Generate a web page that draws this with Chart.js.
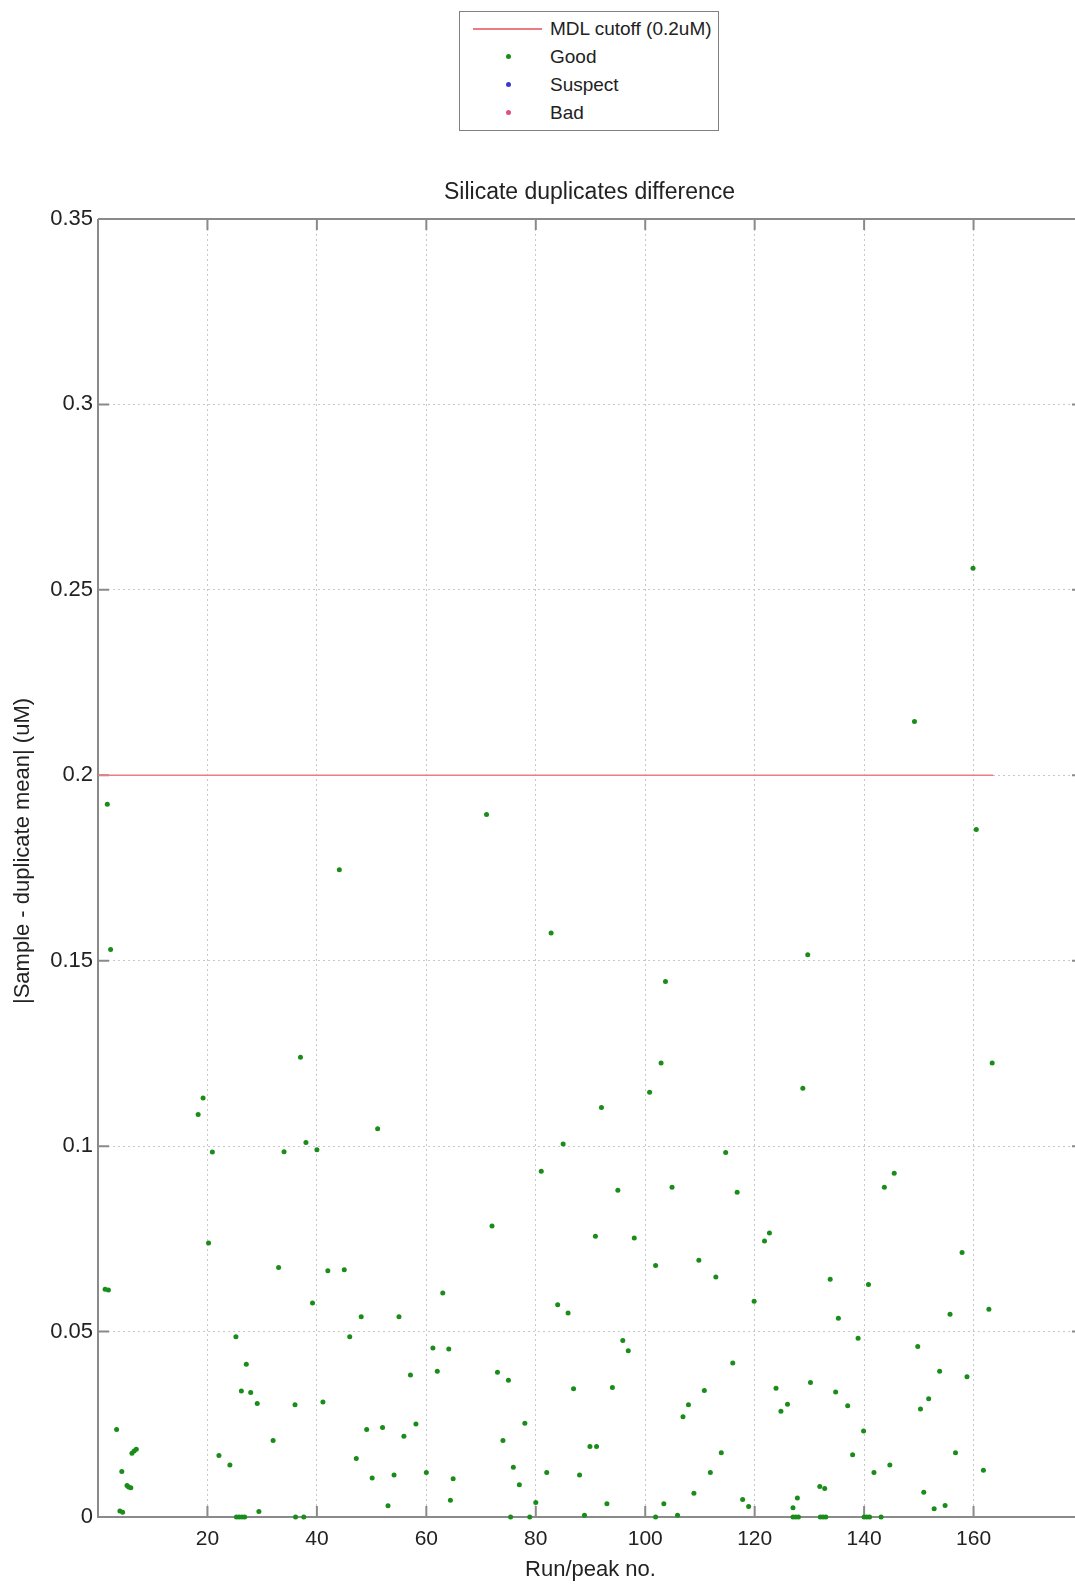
<!DOCTYPE html>
<html><head><meta charset="utf-8">
<script src="https://cdn.jsdelivr.net/npm/chart.js@4/dist/chart.umd.min.js"></script>
<style>
html,body{margin:0;padding:0;background:#fff;overflow:hidden;width:1075px;height:1584px;}
#wrap{position:relative;width:1075px;height:1584px;overflow:hidden;}
#c{position:absolute;left:0;top:0;}
#legend{position:absolute;left:459px;top:11px;width:258px;height:118px;border:1px solid #808080;background:#fff;font-family:"Liberation Sans",Arial,sans-serif;font-size:19px;color:#222;}
.row{position:absolute;left:0;width:100%;height:28px;}
.sym{position:absolute;}
.txt{position:absolute;left:90px;top:0;line-height:28px;white-space:nowrap;}
</style>
</head><body>
<div id="wrap"><canvas id="c"></canvas><div id="legend"></div></div>
<script>
// ---- data ----
const runNo = [1.3,1.7,1.9,2.3,3.4,4.0,4.35,4.5,5.3,5.6,6.0,6.2,6.6,7.0,
18.3,19.2,20.2,20.9,22.1,24.1,25.2,25.3,25.8,26.2,26.3,26.8,27.1,27.9,29.1,29.4,32,33,34,36,36.1,37,37.6,38,39.2,40,41.1,42,44.1,45,46,47.2,48.1,49.1,50.1,51.1,52,53,54.1,55,55.9,57.1,58.1,
60,61.2,62,63,64.1,64.4,64.9,71,72,73,74,75,75.4,75.9,77,78,78.9,80,81,82,82.8,84,85,85.9,86.9,88,88.9,89.9,90.9,91.1,92,93,94,95,95.9,96.9,98,100.8,101.9,101.9,102.9,103.4,103.7,104.9,105.9,106.9,107.9,108.9,109.8,110.8,111.9,112.9,113.9,114.7,116,116.8,117.8,118.9,
119.9,121.8,122.7,123.9,124.8,126,127,127,127.5,127.8,128,128.8,129.7,130.2,131.9,132,132.5,132.8,133,133.8,134.8,135.3,137,137.9,138.9,139.9,140,140.5,140.8,141,141.8,143.1,143.7,144.7,145.5,149.2,149.8,150.3,150.9,151.8,152.8,153.8,154.8,155.7,156.7,157.9,158.8,159.9,160.5,161.8,162.8,163.4];
const absDiff = [0.0614,0.1922,0.0612,0.153,0.0236,0.0016,0.0123,0.0013,0.0085,0.0081,0.0079,0.0172,0.0178,0.0183,
0.1085,0.113,0.0739,0.0984,0.0166,0.014,0.0486,0,0,0.034,0,0,0.0412,0.0336,0.0306,0.0015,0.0206,0.0673,0.0985,0.0303,0,0.124,0,0.101,0.0577,0.099,0.031,0.0664,0.1745,0.0667,0.0486,0.0158,0.054,0.0236,0.0105,0.1047,0.0241,0.003,0.0113,0.054,0.0218,0.0383,0.0251,
0.012,0.0456,0.0393,0.0604,0.0453,0.0045,0.0103,0.1894,0.0785,0.039,0.0206,0.0369,0,0.0134,0.0087,0.0253,0,0.0039,0.0932,0.012,0.1575,0.0572,0.1006,0.055,0.0346,0.0113,0.0005,0.019,0.0757,0.019,0.1104,0.0036,0.0349,0.0881,0.0476,0.0448,0.0752,0.1145,0.0678,0,0.1224,0.0036,0.1444,0.0889,0.0005,0.027,0.0303,0.0064,0.0692,0.0341,0.012,0.0647,0.0173,0.0983,0.0415,0.0876,0.0047,0.0028,
0.0582,0.0744,0.0766,0.0347,0.0285,0.0304,0.0025,0,0,0.0051,0,0.1156,0.1516,0.0363,0.0082,0,0,0.0077,0,0.0641,0.0337,0.0536,0.03,0.0168,0.0482,0.0232,0,0,0.0627,0,0.012,0,0.0889,0.014,0.0927,0.2145,0.046,0.0291,0.0067,0.0319,0.0022,0.0393,0.0031,0.0547,0.0173,0.0713,0.0378,0.2558,0.1854,0.0126,0.056,0.1224];
const suspectRun = [];
const suspectDiff = [];
const badRun = [];
const badDiff = [];
const mdlCutoff = 0.2;
const mdlRunRange = [0, 163.6];
const xTicks = [20,40,60,80,100,120,140,160];
const yTicks = [0,0.05,0.1,0.15,0.2,0.25,0.3,0.35];
const yTickLabels = ['0','0.05','0.1','0.15','0.2','0.25','0.3','0.35'];
const chartTitle = 'Silicate duplicates difference';
const xTitle = 'Run/peak no.';
const yTitle = '|Sample - duplicate mean| (uM)';
const legendLabels = ['MDL cutoff (0.2uM)','Good','Suspect','Bad'];

// ---- styles ----
const FONT = '"Liberation Sans", Arial, sans-serif';
const TXT = '#222';
const FRAME = '#8a8a8a';
const colors = {mdl:'#ee7b84', good:'#1a8c1a', suspect:'#3a3ad0', bad:'#e0507a'};

const toPts = (xs, ys) => xs.map((x,i)=>({x:x, y:ys[i]}));

const frame = {
  id:'frame',
  beforeDatasetsDraw(chart){
    const {ctx, chartArea:a, scales:{x,y}} = chart;
    ctx.save();
    ctx.strokeStyle = FRAME; ctx.lineWidth = 2;
    ctx.beginPath();
    ctx.moveTo(a.left, a.top); ctx.lineTo(a.right, a.top);
    ctx.moveTo(a.left, a.top); ctx.lineTo(a.left, a.bottom); ctx.lineTo(a.right, a.bottom);
    xTicks.forEach(v=>{const px=x.getPixelForValue(v); ctx.moveTo(px,a.bottom); ctx.lineTo(px,a.bottom-11); ctx.moveTo(px,a.top); ctx.lineTo(px,a.top+11);});
    yTicks.forEach(v=>{const py=y.getPixelForValue(v); ctx.moveTo(a.left,py); ctx.lineTo(a.left+11,py); ctx.moveTo(a.right,py); ctx.lineTo(a.right-11,py);});
    ctx.stroke();
    ctx.restore();
  },
  afterDraw(chart){
    const {ctx, chartArea:a} = chart;
    ctx.save();
    ctx.fillStyle = TXT;
    ctx.textAlign = 'center';
    ctx.textBaseline = 'middle';
    ctx.font = '23px ' + FONT;
    ctx.fillText(chartTitle, (a.left + a.right) / 2 - 1, a.top - 26);
    ctx.font = '22px ' + FONT;
    ctx.translate(23, 851);
    ctx.rotate(-Math.PI/2);
    ctx.fillText(yTitle, 0, 0);
    ctx.restore();
  }
};

const canvas = document.getElementById('c');
canvas.width = 1100; canvas.height = 1584;
canvas.style.width = '1100px'; canvas.style.height = '1584px';

const datasets = [
  {label: legendLabels[0], type:'line', data: mdlRunRange.map(x=>({x:x, y:mdlCutoff})), borderColor: colors.mdl, borderWidth: 1.6, pointRadius: 0, fill: false, order: 1},
  {label: legendLabels[1], data: toPts(runNo, absDiff), backgroundColor: colors.good, borderWidth: 0, pointRadius: 2.5, clip: false, order: 0},
  {label: legendLabels[2], data: toPts(suspectRun, suspectDiff), backgroundColor: colors.suspect, borderWidth: 0, pointRadius: 2.5, clip: false},
  {label: legendLabels[3], data: toPts(badRun, badDiff), backgroundColor: colors.bad, borderWidth: 0, pointRadius: 2.5, clip: false}
];

new Chart(canvas, {
  type: 'scatter',
  data: {datasets: datasets},
  options: {
    responsive: false, animation: false, devicePixelRatio: 1,
    layout: {padding: {left:0, right:17, top:219, bottom:0}},
    plugins: {
      legend: {display:false}, tooltip: {enabled:false}, title: {display:false}
    },
    scales: {
      x: {
        type:'linear', min:0, max:180,
        afterBuildTicks: s => { s.ticks = xTicks.map(v=>({value:v})); },
        ticks: {color: TXT, font:{family:FONT, size:21}, padding:10, maxRotation:0, autoSkip:false},
        grid: {color:'#c8c8c8', lineWidth:1, drawTicks:false},
        border: {display:false, dash:[2,3]},
        title: {display:true, text:xTitle, color:TXT, font:{family:FONT, size:22}, padding:{top:0, bottom:1}},
        afterFit: s => { s.height = 67; }
      },
      y: {
        type:'linear', min:0, max:0.35,
        afterBuildTicks: s => { s.ticks = yTicks.map(v=>({value:v})); },
        ticks: {color: TXT, font:{family:FONT, size:22}, padding:5, autoSkip:false,
          callback: (v) => { const i = yTicks.findIndex(t=>Math.abs(t-v)<1e-9); return i>=0 ? yTickLabels[i] : ''; }},
        grid: {color:'#c8c8c8', lineWidth:1, drawTicks:false},
        border: {display:false, dash:[2,3]},
        afterFit: s => { s.width = 98; }
      }
    }
  },
  plugins: [frame]
});

// ---- legend (HTML) ----
const leg = document.getElementById('legend');
const rowCenters = [16.5, 45, 73, 100.5];
datasets.forEach((d, i) => {
  const row = document.createElement('div');
  row.className = 'row';
  row.style.top = (rowCenters[i] - 14) + 'px';
  const sym = document.createElement('div');
  sym.className = 'sym';
  if (i === 0) {
    sym.style.cssText = 'left:13px;top:13px;width:69px;height:2px;background:' + d.borderColor + ';';
  } else {
    sym.style.cssText = 'left:46px;top:11px;width:5px;height:5px;border-radius:50%;background:' + d.backgroundColor + ';';
  }
  const t = document.createElement('div');
  t.className = 'txt';
  t.textContent = d.label;
  row.appendChild(sym); row.appendChild(t);
  leg.appendChild(row);
});
</script>
</body></html>
